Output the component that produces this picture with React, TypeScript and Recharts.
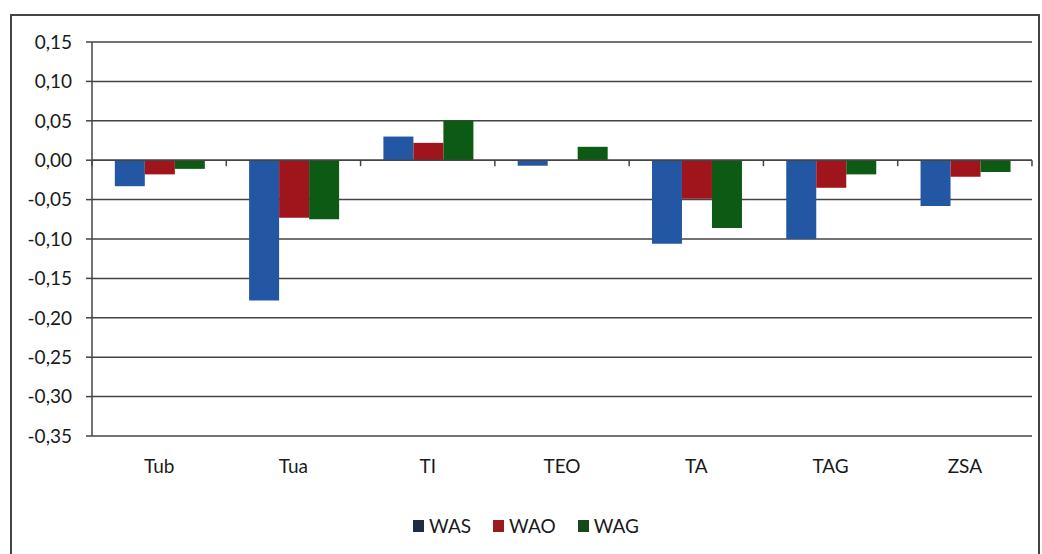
import React from 'react';
import { BarChart, Bar, XAxis, YAxis, CartesianGrid, Legend, ReferenceLine } from 'recharts';

const categories = ['Tub', 'Tua', 'TI', 'TEO', 'TA', 'TAG', 'ZSA'];
const wasValues = [-0.033, -0.178, 0.030, -0.007, -0.106, -0.100, -0.058];
const waoValues = [-0.018, -0.073, 0.022, 0.000, -0.049, -0.035, -0.021];
const wagValues = [-0.011, -0.075, 0.050, 0.017, -0.086, -0.018, -0.015];
const yTicks = [0.15, 0.1, 0.05, 0, -0.05, -0.1, -0.15, -0.2, -0.25, -0.3, -0.35];
const seriesNames = ['WAS', 'WAO', 'WAG'];

const barColors = ['#2357a3', '#a0141b', '#0c5a14'];
const legendColors = ['#1f2d44', '#9c1a1f', '#16481a'];

const data = categories.map((c, i) => ({
  name: c,
  WAS: wasValues[i],
  WAO: waoValues[i],
  WAG: wagValues[i],
}));

const FONT = 'Lato, "Open Sans", sans-serif';

const fmt = (v: number) => v.toFixed(2).replace('.', ',');

const ZeroLine = (props: any) => {
  const { x1, x2, y1 } = props;
  const n = categories.length;
  const step = (x2 - x1) / n;
  const marks = [];
  for (let k = 0; k <= n; k++) {
    const x = x1 + k * step;
    marks.push(<line key={k} x1={x} x2={x} y1={y1} y2={y1 + 6} stroke="#444" strokeWidth={1.5} />);
  }
  return (
    <g>
      <line x1={x1} x2={x2} y1={y1} y2={y1} stroke="#444" strokeWidth={1.5} />
      {marks}
    </g>
  );
};

const LegendContent = () => (
  <div style={{ display: 'flex', justifyContent: 'center', gap: 22, paddingLeft: 20, fontFamily: FONT, fontSize: 19, color: '#1a1a1a' }}>
    {seriesNames.map((s, i) => (
      <div key={s} style={{ display: 'flex', alignItems: 'center', gap: 5 }}>
        <span style={{ display: 'inline-block', width: 11, height: 12, background: legendColors[i] }} />
        <span>{s}</span>
      </div>
    ))}
  </div>
);

export default function App() {
  return (
    <div style={{ position: 'absolute', left: 0, top: 0, width: 1042, height: 554, background: '#fff', overflow: 'hidden' }}>
      <div style={{ position: 'absolute', left: 10, top: 14, width: 1030, height: 560, border: '2px solid #444', boxSizing: 'border-box' }} />
      <div style={{ position: 'absolute', left: 0, top: 0 }}>
        <BarChart
          width={1042}
          height={554}
          data={data}
          margin={{ top: 42, right: 10, bottom: 10, left: 0 }}
          barCategoryGap="17%"
          barGap={0}
        >
          <CartesianGrid vertical={false} stroke="#444" strokeWidth={1.5} />
          <XAxis
            dataKey="name"
            axisLine={false}
            tickLine={false}
            tickSize={0}
            tickMargin={24}
            height={78}
            tick={{ fontFamily: FONT, fontSize: 19, fill: '#1a1a1a' }}
          />
          <YAxis
            type="number"
            domain={[-0.35, 0.15]}
            ticks={yTicks}
            interval={0}
            tickFormatter={fmt}
            width={92}
            tickSize={6}
            tickMargin={14}
            axisLine={{ stroke: '#444', strokeWidth: 1.5 }}
            tickLine={{ stroke: '#444', strokeWidth: 1.5 }}
            tick={{ fontFamily: FONT, fontSize: 19, fill: '#1a1a1a' }}
          />
          <Bar dataKey="WAS" fill={barColors[0]} isAnimationActive={false} />
          <Bar dataKey="WAO" fill={barColors[1]} isAnimationActive={false} />
          <Bar dataKey="WAG" fill={barColors[2]} isAnimationActive={false} />
          <ReferenceLine y={0} shape={ZeroLine} />
          <Legend verticalAlign="bottom" height={30} content={LegendContent} />
        </BarChart>
      </div>
    </div>
  );
}
